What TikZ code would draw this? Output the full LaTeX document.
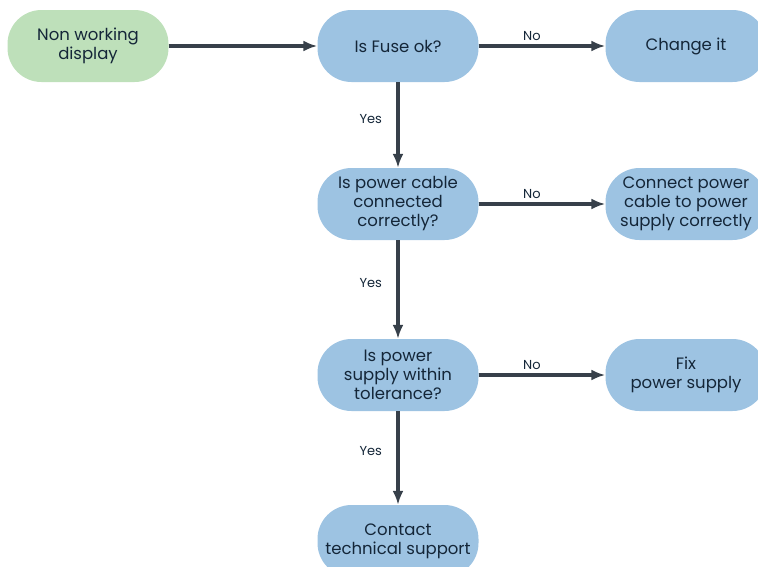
\documentclass[tikz,border=0pt]{standalone}
\usepackage{fontspec}
\setmainfont{Poppins}
\usetikzlibrary{arrows.meta}
\definecolor{stepblue}{HTML}{9DC3E2}
\definecolor{startgreen}{HTML}{BEE0BA}
\definecolor{inkblue}{HTML}{142638}
\definecolor{linegray}{HTML}{37404A}
\tikzset{
    flowbox/.style={rectangle, rounded corners=34pt, fill=stepblue, text=inkblue,
        minimum width=161pt, minimum height=72pt, inner sep=1pt,
        align=center, font=\fontsize{16.5}{19}\selectfont},
    startbox/.style={flowbox, fill=startgreen},
    flowarrow/.style={draw=linegray, line width=3.4pt,
        -{Latex[length=14pt,width=11pt]}},
    answer/.style={text=inkblue, font=\fontsize{13}{15}\selectfont}
}

\begin{document}
\begin{tikzpicture}[x=1pt,y=-1pt]
    \useasboundingbox (0,0) rectangle (758,566);

    \node[startbox] (nondisplay) at (88,46) {Non working\\display};
    \node[flowbox] (fuse) at (398,46) {Is Fuse ok?};
    \node[flowbox] (changefuse) at (686,46) {Change it};

    \node[flowbox] (cable) at (398,204) {Is power cable\\connected\\correctly?};
    \node[flowbox] (connectcable) at (686,204) {Connect power\\cable to power\\supply correctly};

    \node[flowbox] (tolerance) at (398,375) {Is power\\supply within\\tolerance?};
    \node[flowbox] (fixsupply) at (686,375) {Fix\\power supply};

    \node[flowbox] (support) at (398,541) {Contact\\technical support};

    \draw[flowarrow] (nondisplay) -- (fuse);
    \draw[flowarrow] (fuse) -- node[answer, above, pos=0.42] (nofuse) {No} (changefuse);
    \draw[flowarrow] (fuse) -- node[answer, left, pos=0.43, xshift=-11pt] (yesfuse) {Yes} (cable);
    \draw[flowarrow] (cable) -- node[answer, above, pos=0.42] (nocable) {No} (connectcable);
    \draw[flowarrow] (cable) -- node[answer, left, pos=0.43, xshift=-11pt] (yescable) {Yes} (tolerance);
    \draw[flowarrow] (tolerance) -- node[answer, above, pos=0.42] (notolerance) {No} (fixsupply);
    \draw[flowarrow] (tolerance) -- node[answer, left, pos=0.43, xshift=-11pt] (yestolerance) {Yes} (support);
\end{tikzpicture}
\end{document}
